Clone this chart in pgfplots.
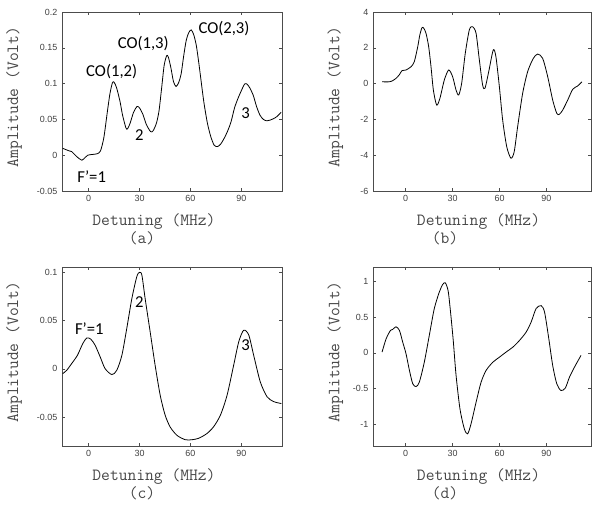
\documentclass[border=0pt]{standalone}
\usepackage{fontspec}
\usepackage{pgfplots}
\pgfplotsset{compat=1.18}
\newfontfamily\ticksf{Liberation Sans}
\newfontfamily\annot{Carlito}

\pgfplotsset{
  curve/.style={black, line width=0.6pt, smooth, tension=0.45, mark=none},
  panel/.style={
    scale only axis,
    height=134.25pt,
    clip mode=individual,
    axis line style={draw=black!70, line width=0.5pt},
    tick style={draw=black!70, line width=0.4pt},
    major tick length=2pt,
    tick align=inside,
    xtick={0,30,60,90},
    scaled ticks=false,
    /pgf/number format/assume math mode=true,
    ticklabel style={font=\ticksf\fontsize{6.7}{7}\selectfont, text=black!75},
    yticklabel style={/pgf/number format/fixed, /pgf/number format/precision=2},
    xlabel={Detuning (MHz)},
    ylabel={Amplitude (Volt)},
    label style={font=\ttfamily\fontsize{12.8}{14}\selectfont, text=black!72},
  },
  leftcol/.style={width=165pt, xmin=-15.7, xmax=114,
    xlabel style={at={(axis description cs:0.418,-0.168)}, anchor=center},
    ylabel style={at={(axis description cs:-0.218,0.525)}, anchor=center}},
  rightcol/.style={width=163.5pt, xmin=-20.9, xmax=118.5,
    xlabel style={at={(axis description cs:0.484,-0.168)}, anchor=center},
    ylabel style={at={(axis description cs:-0.173,0.525)}, anchor=center}},
}

\begin{document}
\begin{tikzpicture}
\useasboundingbox (0,0) rectangle (444pt,379.5pt);

% (a)
\begin{axis}[panel, leftcol, at={(46.5pt,236.25pt)}, anchor=south west,
  ymin=-0.05, ymax=0.2, ytick={-0.05,0,0.05,0.1,0.15,0.2}]
\addplot[curve] coordinates {
(-15.3,0.0096) (-12,0.0065) (-10,0.005) (-7,-0.002) (-4,-0.007) (-2,-0.003)
(-0.5,0.0) (2,0.001) (5,0.002) (7,0.006) (9,0.025) (11,0.06) (12.5,0.085)
(14,0.101) (15,0.102) (16.5,0.094) (18.5,0.075) (20,0.056) (22,0.038)
(23,0.037) (24.5,0.045) (26.5,0.060) (28.5,0.068) (30,0.066) (32,0.057)
(34,0.043) (36.5,0.033) (38,0.034) (40,0.045) (41.5,0.062) (43,0.093)
(44.5,0.125) (46,0.139) (47,0.137) (48.5,0.122) (50,0.103) (51.5,0.096)
(53,0.101) (54.5,0.113) (56,0.138) (57.5,0.160) (59,0.171) (60.5,0.175)
(62,0.168) (63.5,0.153) (65,0.128) (66.5,0.100) (68,0.073) (70,0.045)
(72,0.026) (74,0.014) (76,0.012) (78,0.016) (80,0.024) (82,0.034)
(84,0.047) (86,0.066) (88,0.079) (90,0.090) (92,0.0995) (93.5,0.099)
(95,0.094) (97,0.084) (99,0.068) (101,0.056) (103,0.050) (105,0.048)
(107,0.049) (109,0.051) (111,0.054) (113.5,0.060)
};
\node[font=\annot\fontsize{12.5}{14}\selectfont] at (axis cs:13.6,0.1166) {CO(1,2)};
\node[font=\annot\fontsize{12.5}{14}\selectfont] at (axis cs:32.2,0.156) {CO(1,3)};
\node[font=\annot\fontsize{12.5}{14}\selectfont] at (axis cs:79.8,0.177) {CO(2,3)};
\node[font=\annot\fontsize{12.5}{14}\selectfont] at (axis cs:29.9,0.028) {2};
\node[font=\annot\fontsize{12.5}{14}\selectfont] at (axis cs:92.6,0.059) {3};
\node[font=\annot\fontsize{12.5}{14}\selectfont] at (axis cs:1.8,-0.030) {F’=1};
\node[font=\ttfamily\fontsize{12.8}{14}\selectfont, text=black!72] at (axis description cs:0.364,-0.265) {(a)};
\end{axis}

% (b)
\begin{axis}[panel, rightcol, at={(279.75pt,236.25pt)}, anchor=south west,
  ymin=-6, ymax=4, ytick={-6,-4,-2,0,2,4}]
\addplot[curve] coordinates {
(-15.1,0.1) (-10.4,0.1) (-8,0.18) (-6.2,0.29) (-4,0.5) (-2.4,0.72) (0.2,0.76)
(3.4,0.94) (5.5,1.22) (7.7,2.06) (9,2.7) (10.4,3.12) (11.5,3.1) (13,2.81)
(14.7,2.06) (16.2,0.94) (17.7,-0.36) (19.8,-1.2) (21.9,-0.82) (24.7,0.2)
(27.5,0.76) (30,0.39) (32.2,-0.36) (33.9,-0.64) (35.8,0.02) (38.1,1.69)
(40.7,3.0) (42.8,3.18) (45,2.81) (47.1,1.32) (49.2,-0.08) (50.7,-0.26)
(53.1,0.67) (56,1.88) (57.7,1.5) (59.9,-0.17) (62,-2.03) (64.6,-3.52)
(67.3,-4.17) (69.4,-3.8) (71.6,-2.4) (74.8,-0.54) (78,0.67) (81.6,1.41)
(84.4,1.65) (87.6,1.41) (90.8,0.39) (94,-0.92) (96.6,-1.66) (98.2,-1.72)
(100.4,-1.48) (103.6,-0.92) (106.8,-0.32) (110,-0.13) (112.7,0.1)
};
\node[font=\ttfamily\fontsize{12.8}{14}\selectfont, text=black!72] at (axis description cs:0.33,-0.265) {(b)};
\end{axis}

% (c)
\begin{axis}[panel, leftcol, at={(46.5pt,45pt)}, anchor=south west,
  ymin=-0.08, ymax=0.1055, ytick={-0.05,0,0.05,0.1}]
\addplot[curve] coordinates {
(-15.3,-0.005) (-12.9,-0.0015) (-10,0.0054) (-6.6,0.014) (-3.5,0.026)
(-1.1,0.032) (1.3,0.0307) (3.8,0.0245) (6.8,0.0124) (9.7,0.0002)
(13.7,-0.006) (16.6,-0.0015) (19.6,0.014) (22.5,0.042) (25.5,0.073)
(28.4,0.0955) (30,0.1) (31.4,0.097) (33.3,0.073) (36.3,0.038) (39.2,0.0037)
(42.2,-0.0275) (45.1,-0.048) (48.1,-0.0604) (52.1,-0.069) (57,-0.0735)
(60.9,-0.0735) (64.9,-0.072) (69.8,-0.067) (73.7,-0.060) (77.7,-0.048)
(81.6,-0.0275) (85.5,0.0037) (88.5,0.028) (91.4,0.040) (94.4,0.035)
(97.3,0.014) (101.2,-0.0136) (105.2,-0.029) (109.1,-0.034) (113.6,-0.036)
};
\node[font=\annot\fontsize{12.5}{14}\selectfont] at (axis cs:0.4,0.042) {F’=1};
\node[font=\annot\fontsize{12.5}{14}\selectfont] at (axis cs:29.9,0.0695) {2};
\node[font=\annot\fontsize{12.5}{14}\selectfont] at (axis cs:92.6,0.025) {3};
\node[font=\ttfamily\fontsize{12.8}{14}\selectfont, text=black!72] at (axis description cs:0.364,-0.265) {(c)};
\end{axis}

% (d)
\begin{axis}[panel, rightcol, at={(279.75pt,45pt)}, anchor=south west,
  ymin=-1.3, ymax=1.2, ytick={-1,-0.5,0,0.5,1}]
\addplot[curve] coordinates {
(-15.1,0.012) (-12.5,0.198) (-9.7,0.315) (-8.2,0.33) (-6.2,0.365) (-4,0.315)
(-1.9,0.15) (0.2,-0.01) (2.4,-0.245) (4.5,-0.43) (6.6,-0.47) (8.7,-0.41)
(11.9,-0.13) (15.1,0.245) (18.3,0.62) (21.5,0.85) (23.6,0.953) (25.3,0.98)
(27.2,0.86) (29,0.5) (30.5,0.15) (32.2,-0.31) (34.7,-0.78) (37.5,-1.06)
(39.6,-1.13) (41.8,-0.99) (45,-0.69) (48.2,-0.41) (51.4,-0.245) (55.7,-0.13)
(59.9,-0.06) (64.2,0.012) (68.5,0.08) (72.8,0.175) (77,0.29) (80.2,0.43)
(83.4,0.62) (86.6,0.66) (88.8,0.57) (91.5,0.2) (94,-0.175) (96.6,-0.43)
(99.3,-0.525) (102.1,-0.49) (104.7,-0.34) (107.9,-0.2) (112.1,-0.035)
};
\node[font=\ttfamily\fontsize{12.8}{14}\selectfont, text=black!72] at (axis description cs:0.33,-0.265) {(d)};
\end{axis}
\end{tikzpicture}
\end{document}
